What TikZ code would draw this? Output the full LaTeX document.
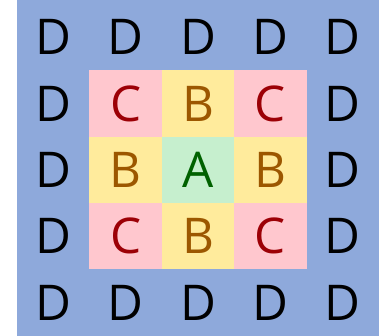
\documentclass[tikz,border=0pt]{standalone}
\usepackage{fontspec}
\setmainfont{Open Sans}
\usepackage{tikz}

\begin{document}
\begin{tikzpicture}[x=72pt, y=66pt]
    % Definitions
    \definecolor{outer-blue}{RGB}{142, 169, 219}
    \definecolor{bad-pink}{RGB}{255, 199, 206}
    \definecolor{bad-red}{RGB}{156, 0, 6}
    \definecolor{neutral-yellow}{RGB}{255, 235, 156}
    \definecolor{neutral-brown}{RGB}{156, 87, 0}
    \definecolor{good-green}{RGB}{198, 239, 206}
    \definecolor{good-dark}{RGB}{0, 97, 0}

    \tikzset{
        cell/.style={rectangle, minimum width=72pt, minimum height=66pt,
            inner sep=0, font=\fontsize{49}{49}\selectfont},
        dcell/.style={cell, text=black},
        ccell/.style={cell, fill=bad-pink, text=bad-red},
        bcell/.style={cell, fill=neutral-yellow, text=neutral-brown},
        acell/.style={cell, fill=good-green, text=good-dark}
    }

    \useasboundingbox (-0.5-17/72,-0.5) rectangle (4.5,4.5+4/66);
    \fill[outer-blue] (-0.5,-0.5) rectangle (4.5,4.5+4/66);

    % Row 1
    \node[dcell] (d11) at (0,4) {D};
    \node[dcell] (d12) at (1,4) {D};
    \node[dcell] (d13) at (2,4) {D};
    \node[dcell] (d14) at (3,4) {D};
    \node[dcell] (d15) at (4,4) {D};

    % Row 2
    \node[dcell] (d21) at (0,3) {D};
    \node[ccell] (c22) at (1,3) {C};
    \node[bcell] (b23) at (2,3) {B};
    \node[ccell] (c24) at (3,3) {C};
    \node[dcell] (d25) at (4,3) {D};

    % Row 3
    \node[dcell] (d31) at (0,2) {D};
    \node[bcell] (b32) at (1,2) {B};
    \node[acell] (a33) at (2,2) {A};
    \node[bcell] (b34) at (3,2) {B};
    \node[dcell] (d35) at (4,2) {D};

    % Row 4
    \node[dcell] (d41) at (0,1) {D};
    \node[ccell] (c42) at (1,1) {C};
    \node[bcell] (b43) at (2,1) {B};
    \node[ccell] (c44) at (3,1) {C};
    \node[dcell] (d45) at (4,1) {D};

    % Row 5
    \node[dcell] (d51) at (0,0) {D};
    \node[dcell] (d52) at (1,0) {D};
    \node[dcell] (d53) at (2,0) {D};
    \node[dcell] (d54) at (3,0) {D};
    \node[dcell] (d55) at (4,0) {D};
\end{tikzpicture}
\end{document}
